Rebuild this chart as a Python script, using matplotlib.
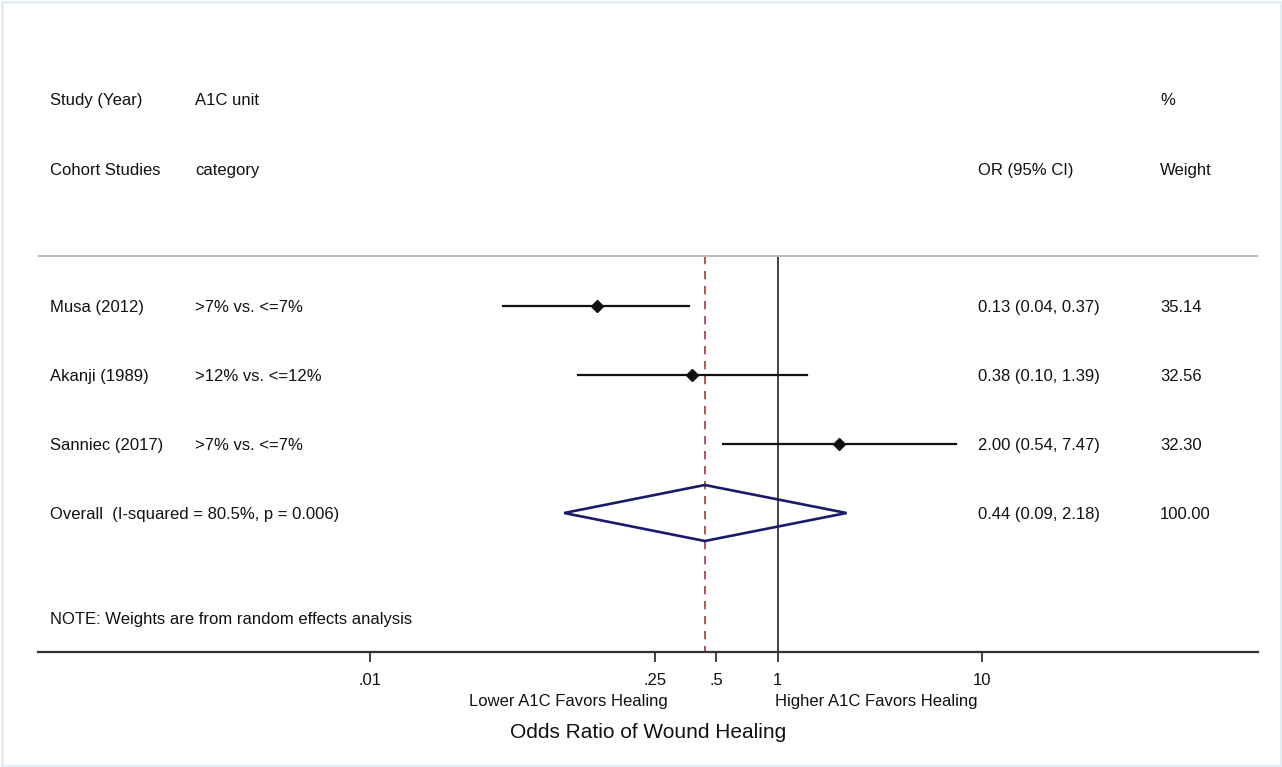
import numpy as np
import matplotlib
matplotlib.use("Agg")
import matplotlib.pyplot as plt
from matplotlib.patches import Polygon, Rectangle
import matplotlib.transforms as mtransforms

plt.rcParams["font.family"] = ["Liberation Sans", "DejaVu Sans"]

# ---- data ----
studies = ["Musa (2012)", "Akanji (1989)", "Sanniec (2017)"]
categories = [">7% vs. <=7%", ">12% vs. <=12%", ">7% vs. <=7%"]
odds = [0.13, 0.38, 2.00]
ci_lo = [0.045, 0.105, 0.54]
ci_hi = [0.37, 1.39, 7.47]
or_text = ["0.13 (0.04, 0.37)", "0.38 (0.10, 1.39)", "2.00 (0.54, 7.47)"]
weights = ["35.14", "32.56", "32.30"]

overall_label = "Overall  (I-squared = 80.5%, p = 0.006)"
overall_or, overall_lo, overall_hi = 0.44, 0.09, 2.18
overall_text = "0.44 (0.09, 2.18)"
overall_weight = "100.00"

xticks = [0.01, 0.25, 0.5, 1, 10]
xticklabels = [".01", ".25", ".5", "1", "10"]

INK = "#111111"
NAVY = "#1B1B6B"
RED = "#A33A3A"

W, H = 1282, 767
fig = plt.figure(figsize=(W / 100, H / 100), dpi=100)

# axes spans the full height above the x-axis line; y in pixel rows (top = 0)
ax_left, ax_right, ax_bottom = 38, 1258, 652
ax = fig.add_axes([ax_left / W, (H - ax_bottom) / H,
                   (ax_right - ax_left) / W, ax_bottom / H])
ax.set_xscale("log")
px_per_dec = 204.0
x_one = 777.5
ax.set_xlim(10 ** ((ax_left - x_one) / px_per_dec),
            10 ** ((ax_right - x_one) / px_per_dec))
ax.set_ylim(ax_bottom, 0)
for s in ("top", "right", "left"):
    ax.spines[s].set_visible(False)
ax.spines["bottom"].set_color("#333333")
ax.spines["bottom"].set_linewidth(1.6)
ax.set_yticks([])
ax.set_xticks(xticks)
ax.set_xticklabels(xticklabels, fontsize=12, color=INK)
ax.xaxis.set_minor_locator(matplotlib.ticker.NullLocator())
ax.tick_params(axis="x", length=7, width=1.3, color="#333333", pad=8)

# text transform: x in figure pixels fraction, y in data rows
tr = mtransforms.blended_transform_factory(fig.transFigure, ax.transData)

def txt(xpx, y, s, **kw):
    ax.text(xpx / W, y, s, transform=tr, fontsize=12, color=INK,
            va="center_baseline", ha="left", clip_on=False, **kw)

# header
hdr1, hdr2 = 99, 169
txt(50, hdr1, "Study (Year)")
txt(195, hdr1, "A1C unit")
txt(1160, hdr1, "%")
txt(50, hdr2, "Cohort Studies")
txt(195, hdr2, "category")
txt(978, hdr2, "OR (95% CI)")
txt(1160, hdr2, "Weight")

top_line = 256
ax.axhline(top_line, color="#BBBBBB", lw=1.4)

row0, row_step = 306, 69
rows = [row0 + row_step * i for i in range(len(studies))]
overall_row = row0 + row_step * len(studies)

# reference lines
ax.plot([1, 1], [top_line, ax_bottom], color=INK, lw=1.1, zorder=1)
ax.plot([overall_or, overall_or], [top_line, ax_bottom], color=RED, lw=1.2,
        dashes=(5, 4), zorder=1)

for y, st, cat, o, lo, hi, ot, w in zip(rows, studies, categories, odds,
                                         ci_lo, ci_hi, or_text, weights):
    ax.plot([lo, hi], [y, y], color=INK, lw=1.6, zorder=2)
    ax.plot([o], [y], marker="D", ms=6.5, color=INK, zorder=3)
    txt(50, y, st)
    txt(195, y, cat)
    txt(978, y, ot)
    txt(1160, y, w)

half_h = 28
diamond = Polygon([[overall_lo, overall_row], [overall_or, overall_row - half_h],
                   [overall_hi, overall_row], [overall_or, overall_row + half_h]],
                  closed=True, fill=False, edgecolor=NAVY, lw=1.9, zorder=3)
ax.add_patch(diamond)
txt(50, overall_row, overall_label)
txt(978, overall_row, overall_text)
txt(1160, overall_row, overall_weight)

txt(50, 618, "NOTE: Weights are from random effects analysis")

# below-axis labels
fig.text(568 / W, 1 - 700 / H, "Lower A1C Favors Healing", ha="center",
         va="center_baseline", fontsize=12, color=INK)
fig.text(876 / W, 1 - 700 / H, "Higher A1C Favors Healing", ha="center",
         va="center_baseline", fontsize=12, color=INK)
fig.text(648 / W, 1 - 730 / H, "Odds Ratio of Wound Healing", ha="center",
         va="center_baseline", fontsize=15, color=INK)

# faint outer frame
fig.patches.append(Rectangle((1.5 / W, 1.5 / H), 1 - 3 / W, 1 - 3 / H,
                             transform=fig.transFigure, fill=False,
                             edgecolor="#E6EEF5", lw=2.2))

fig.savefig("out.png", dpi=100, facecolor="white")
